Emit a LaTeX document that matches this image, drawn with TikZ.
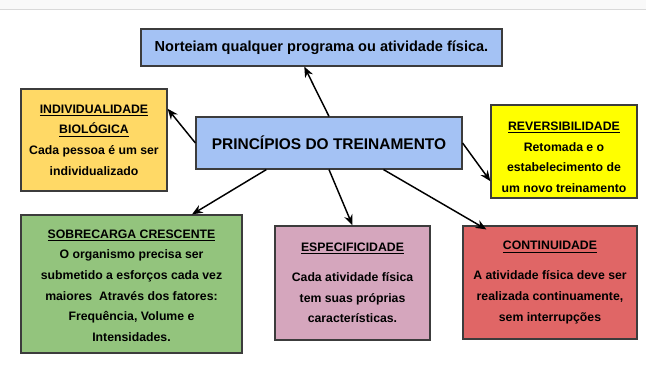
\documentclass[tikz,border=0pt]{standalone}
\usepackage{fontspec}
\setmainfont{Liberation Sans}
\usepackage{tikz}
\usetikzlibrary{arrows.meta}

\definecolor{azul}{HTML}{A4C2F4}
\definecolor{amarelo}{HTML}{FFD966}
\definecolor{amarelovivo}{HTML}{FFFF00}
\definecolor{verde}{HTML}{93C47D}
\definecolor{rosa}{HTML}{D5A6BD}
\definecolor{vermelho}{HTML}{E06666}
\definecolor{borda}{HTML}{3C3C3C}

\begin{document}
\begin{tikzpicture}[
			x=0.75pt, y=-0.75pt,
			caixa/.style={rectangle, draw=borda, line width=0.9pt, align=center, inner sep=2pt,
				font=\bfseries\fontsize{9.2}{15.5}\selectfont},
			seta/.style={-{Stealth[length=8pt,width=6.5pt]}, line width=1.1pt},
		]

			\useasboundingbox (0,0) rectangle (646,368);
			\fill[gray!5] (0,0) rectangle (646,9);
			\draw[gray!30] (0,9) -- (646,9);

			%Nodes
			\node[caixa, fill=azul, minimum width=270.75pt, minimum height=27.75pt,
				font=\bfseries\fontsize{10.9}{13}\selectfont]	(norte)	at (321.5,47.5)
				{Norteiam qualquer programa ou atividade física.};
			\node[caixa, fill=azul, minimum width=199.5pt, minimum height=39pt,
				font=\bfseries\fontsize{11.6}{14}\selectfont]	(princ)	at (329,143)
				{PRINCÍPIOS DO TREINAMENTO};
			\node[caixa, fill=amarelo, minimum width=109.5pt, minimum height=76.5pt]	(indiv)	at (94,140)
				{\underline{INDIVIDUALIDADE}\\\underline{BIOLÓGICA}\\Cada pessoa é um ser\\individualizado};
			\node[caixa, fill=amarelovivo, minimum width=109.5pt, minimum height=69.75pt]	(revers)	at (564,151.5)
				{\rule{0pt}{15pt}\underline{REVERSIBILIDADE}\\Retomada e o\\estabelecimento de\\um novo treinamento};
			\node[caixa, fill=verde, minimum width=165.75pt, minimum height=103.5pt]	(sobre)	at (131.5,284)
				{\rule{0pt}{9pt}\underline{SOBRECARGA CRESCENTE}\\O organismo precisa ser\\submetido a esforços cada vez\\maiores\ \ Através dos fatores:\\Frequência, Volume e\\Intensidades.};
			\node[caixa, fill=rosa, minimum width=116.25pt, minimum height=85.5pt]	(espec)	at (352.5,283)
				{\underline{ESPECIFICIDADE}\\[7pt]Cada atividade física\\tem suas próprias\\características.};
			\node[caixa, fill=vermelho, minimum width=130.5pt, minimum height=84.75pt]	(cont)	at (550,282.5)
				{\underline{CONTINUIDADE}\\[7pt]A atividade física deve ser\\realizada continuamente,\\sem interrupções};

			%Lines
			\draw[seta]	(princ.north) -- (norte.228);
			\draw[seta]	(princ.west) -- (indiv.23);
			\draw[seta]	(princ.east) -- (revers.202);
			\draw[seta]	(princ.203) -- (sobre.49);
			\draw[seta]	(princ.south) -- (espec.north);
			\draw[seta, shorten >=-6pt]	(princ.334) -- (cont.141);

		\end{tikzpicture}
\end{document}
